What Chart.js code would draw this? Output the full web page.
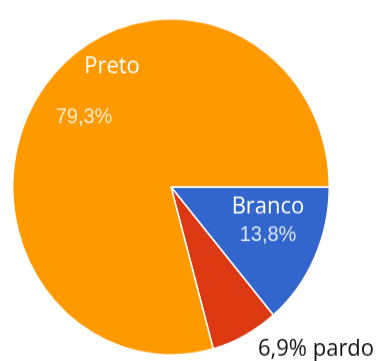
<!DOCTYPE html>
<html>
<head>
<meta charset="utf-8">
<script src="https://cdn.jsdelivr.net/npm/chart.js@4/dist/chart.umd.min.js"></script>
<style>
  html, body { margin: 0; padding: 0; background: #fff; }
  #outer { width: 380px; height: 361px; overflow: hidden; }
  #wrap {
    width: 380px;
    height: 340px;
    transform: scaleY(1.062);
    transform-origin: 0 0;
  }
</style>
</head>
<body>
<div id="outer"><div id="wrap"><canvas id="pie"></canvas></div></div>
<script>
const categories = ["Branco", "pardo", "Preto"];
const percents = [13.8, 6.9, 79.3];
const sliceColors = ["#3366cc", "#dc3912", "#ff9900"];

const fmt = v => v.toFixed(1).replace(".", ",") + "%";

// text placed around the pie centre: [text, dx, dy, font, colour]
const textLayout = [
  [categories[2], -59, -113, '22px "Open Sans"', "#ffffff"],
  [fmt(percents[2]), -87, -66, '20px "Liberation Sans"', "rgba(255,244,222,0.92)"],
  [categories[0], 97, 19, '22px "Open Sans"', "#ffffff"],
  [fmt(percents[0]), 97, 45, '20px "Liberation Sans"', "rgba(232,240,255,0.92)"],
  [fmt(percents[1]) + " " + categories[1], 145, 153, '22px "Open Sans"', "#111111"]
];

const sliceText = {
  id: "sliceText",
  afterDatasetsDraw(chart) {
    const arc = chart.getDatasetMeta(0).data[0];
    const ctx = chart.ctx;
    ctx.save();
    ctx.textAlign = "center";
    ctx.textBaseline = "middle";
    textLayout.forEach(([txt, dx, dy, font, color]) => {
      ctx.font = font;
      ctx.fillStyle = color;
      ctx.fillText(txt, arc.x + dx, arc.y + dy);
    });
    ctx.restore();
  }
};

new Chart(document.getElementById("pie"), {
  type: "pie",
  data: {
    labels: categories,
    datasets: [{
      data: percents,
      backgroundColor: sliceColors,
      borderColor: "#ffffff",
      borderWidth: 1.5
    }]
  },
  options: {
    responsive: true,
    maintainAspectRatio: false,
    animation: false,
    rotation: 90,
    layout: { padding: { left: 12, right: 50, top: 17, bottom: 5 } },
    plugins: {
      legend: { display: false },
      tooltip: { enabled: false }
    }
  },
  plugins: [sliceText]
});
</script>
</body>
</html>
